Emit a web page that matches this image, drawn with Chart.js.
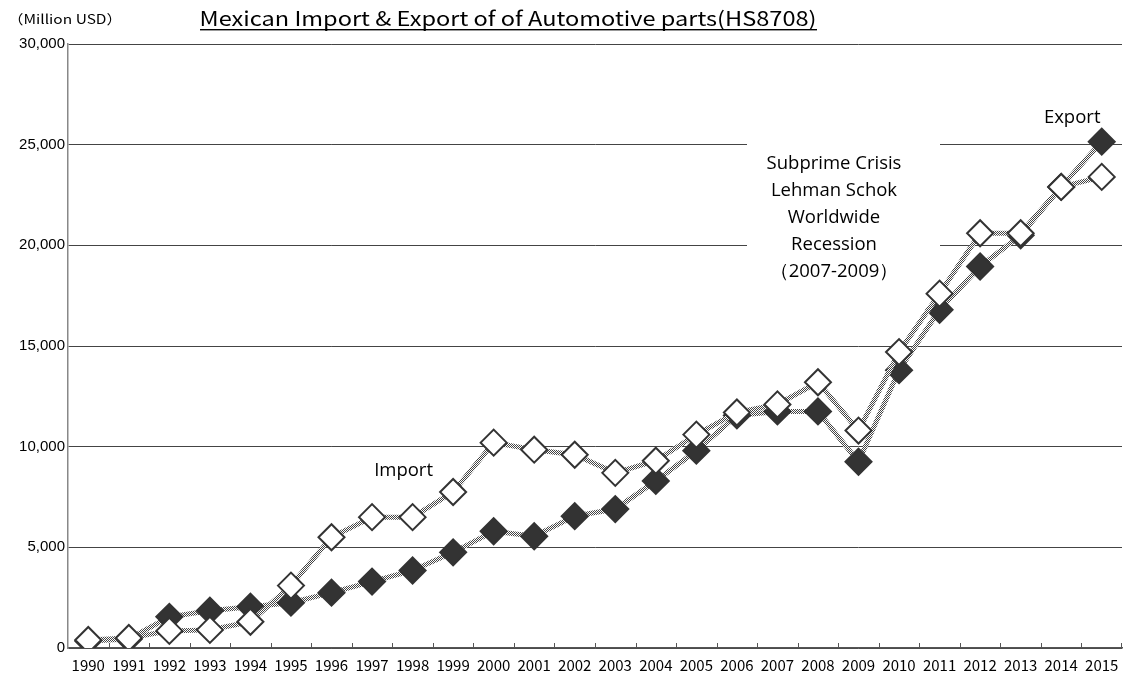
<!DOCTYPE html>
<html>
<head>
<meta charset="utf-8">
<script src="https://cdn.jsdelivr.net/npm/chart.js@4.4.1/dist/chart.umd.min.js"></script>
<style>
  html, body { margin: 0; padding: 0; background: #fff; overflow: hidden; }
  canvas { display: block; }
</style>
</head>
<body>
<canvas id="tradeChart" width="1126" height="680"></canvas>
<script>
// data (million USD)
var years = ['1990', '1991', '1992', '1993', '1994', '1995', '1996', '1997', '1998', '1999',
             '2000', '2001', '2002', '2003', '2004', '2005', '2006', '2007', '2008', '2009',
             '2010', '2011', '2012', '2013', '2014', '2015'];
var importValues = [400, 500, 850, 900, 1300, 3100, 5500, 6500, 6500, 7750,
                    10200, 9850, 9600, 8700, 9300, 10600, 11700, 12100, 13200, 10800,
                    14700, 17600, 20600, 20600, 22900, 23400];
var exportValues = [350, 450, 1550, 1850, 2050, 2250, 2750, 3300, 3850, 4750,
                    5800, 5550, 6550, 6900, 8300, 9800, 11550, 11750, 11750, 9250,
                    13800, 16800, 18950, 20500, 22900, 25150];
var yTicks = [0, 5000, 10000, 15000, 20000, 25000, 30000];

var chartTitle = 'Mexican Import & Export of of Automotive parts(HS8708)';
var unitLabel = '（Million USD）';
var crisisNote = ['Subprime Crisis', 'Lehman Schok', 'Worldwide', 'Recession', '（2007-2009）'];

// stippled line texture like the original
function stipple() {
    var c = document.createElement('canvas');
    c.width = 2; c.height = 2;
    var g = c.getContext('2d');
    g.fillStyle = '#ffffff';
    g.fillRect(0, 0, 2, 2);
    g.fillStyle = '#444444';
    g.fillRect(0, 0, 1, 1);
    g.fillRect(1, 1, 1, 1);
    return g.createPattern(c, 'repeat');
}

// draw text squeezed/stretched to a given width (the original uses a narrow gothic face)
function fitText(ctx, text, cx, cy, width) {
    var w = ctx.measureText(text).width;
    ctx.save();
    ctx.translate(cx, cy);
    ctx.scale(width / w, 1);
    ctx.fillText(text, 0, 0);
    ctx.restore();
}

var textPlugin = {
    id: 'texts',
    beforeDatasetsDraw: function (chart) {
        // white box behind the crisis note, hides the grid lines there
        var ctx = chart.ctx;
        ctx.save();
        ctx.fillStyle = '#fff';
        ctx.fillRect(747, 130, 193, 125);
        ctx.restore();
    },
    afterDraw: function (chart) {
        var ctx = chart.ctx;
        var x = chart.scales.x, y = chart.scales.y;
        ctx.save();

        // inward tick marks on the category axis
        ctx.strokeStyle = '#555';
        ctx.lineWidth = 1;
        ctx.beginPath();
        for (var i = 1; i <= years.length; i++) {
            var bx = i < years.length
                ? Math.round((x.getPixelForValue(i - 1) + x.getPixelForValue(i)) / 2) + 0.5
                : chart.chartArea.right - 0.5;
            ctx.moveTo(bx, chart.chartArea.bottom);
            ctx.lineTo(bx, chart.chartArea.bottom - 5);
        }
        ctx.stroke();

        // title
        ctx.fillStyle = '#000';
        ctx.textAlign = 'center';
        ctx.textBaseline = 'middle';
        ctx.font = '20px "Noto Sans CJK JP", sans-serif';
        fitText(ctx, chartTitle, 508, 18, 617);
        ctx.fillRect(200, 29, 617, 1.4);

        ctx.font = '13px "Noto Sans CJK JP", sans-serif';
        fitText(ctx, unitLabel, 65, 19, 114);

        // crisis note
        ctx.font = '18.5px "Open Sans", sans-serif';
        crisisNote.forEach(function (line, i) {
            ctx.fillText(line, 834, 164 + i * 27);
        });

        // series labels
        ctx.fillText('Export', x.getPixelForValue(years.length - 2) + 11, y.getPixelForValue(26350));
        ctx.fillText('Import', x.getPixelForValue(years.indexOf('1998')) - 9, y.getPixelForValue(8780));
        ctx.restore();
    }
};

document.addEventListener('DOMContentLoaded', function () {
    var line = stipple();
    var ctx = document.getElementById('tradeChart').getContext('2d');
    var tradeChart = new Chart(ctx, {
        type: 'line',
        data: {
            labels: years,
            datasets: [{
                label: 'Import',
                data: importValues,
                borderColor: line,
                borderWidth: 5,
                pointStyle: 'rectRot',
                pointRadius: 13,
                pointBorderWidth: 2,
                pointBackgroundColor: '#ffffff',
                pointBorderColor: '#333333',
                tension: 0
            }, {
                label: 'Export',
                data: exportValues,
                borderColor: line,
                borderWidth: 5,
                pointStyle: 'rectRot',
                pointRadius: 13,
                pointBorderWidth: 2,
                pointBackgroundColor: '#333333',
                pointBorderColor: '#333333',
                tension: 0
            }]
        },
        options: {
            responsive: false,
            devicePixelRatio: 1,
            animation: false,
            layout: {
                autoPadding: false,   // markers would otherwise push the right edge in
                padding: { top: 44, right: 4, left: 0, bottom: 0 }
            },
            plugins: {
                legend: { display: false },
                tooltip: { enabled: false }
            },
            scales: {
                x: {
                    offset: true,
                    grid: { display: false },
                    border: { display: true, color: '#555', width: 1.5 },
                    ticks: {
                        color: '#000',
                        maxRotation: 0,
                        autoSkip: false,
                        padding: 0,
                        font: { family: '"Noto Sans CJK JP", sans-serif', size: 15 }
                    },
                    afterFit: function (scale) {
                        scale.height = 32;
                        scale.paddingLeft = 0;
                        scale.paddingRight = 0;
                    }
                },
                y: {
                    min: 0,
                    max: 30000,
                    afterBuildTicks: function (scale) {
                        scale.ticks = yTicks.map(function (v) { return { value: v }; });
                    },
                    grid: { color: '#444', drawTicks: false, lineWidth: 1 },
                    border: { display: true, color: '#888', width: 1.5 },
                    ticks: {
                        color: '#000',
                        padding: 3,
                        font: { family: '"Liberation Sans", Arial, sans-serif', size: 15 },
                        callback: function (v) { return v.toLocaleString('en-US'); }
                    },
                    afterFit: function (scale) { scale.width = 68; }
                }
            }
        },
        plugins: [textPlugin]
    });
});
</script>
</body>
</html>
